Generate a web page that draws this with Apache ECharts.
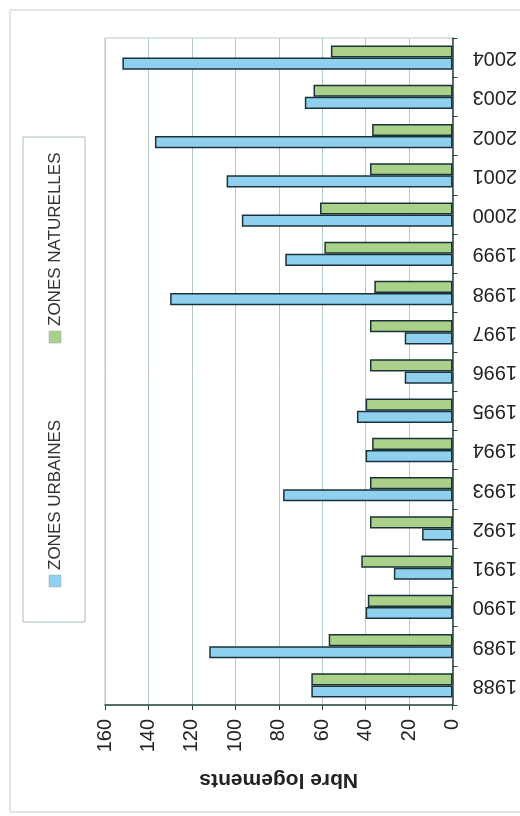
<!DOCTYPE html>
<html>
<head>
<meta charset="utf-8">
<script src="https://cdn.jsdelivr.net/npm/echarts@6/dist/echarts.min.js"></script>
<style>
  html, body { margin: 0; padding: 0; background: #ffffff; }
  #chart { width: 520px; height: 816px; }
</style>
</head>
<body>
<div id="chart"></div>
<script>
// Logements par année, zones urbaines / zones naturelles
const years = ['1988','1989','1990','1991','1992','1993','1994','1995','1996','1997','1998','1999','2000','2001','2002','2003','2004'];
const zonesUrbaines =   [65, 112, 40, 27, 14, 78, 40, 44, 22, 22, 130, 77, 97, 104, 137, 68, 152];
const zonesNaturelles = [65, 57, 39, 42, 38, 38, 37, 40, 38, 38, 36, 59, 61, 38, 37, 64, 56];
const seriesNames = ['ZONES URBAINES', 'ZONES NATURELLES'];
const seriesColors = ['#8fd0ef', '#a9d18a'];
const axisTitle = 'Nbre logements';

const FONT = '"Liberation Sans", Arial, sans-serif';
const chart = echarts.init(document.getElementById('chart'));

// Rotated legend drawn as a graphic group (reads bottom to top)
function legendItem(name, color, yBottom) {
  return {
    type: 'group',
    x: 55, y: yBottom,
    rotation: Math.PI / 2,
    children: [
      { type: 'rect', shape: { x: 0, y: -6, width: 12, height: 12 },
        style: { fill: color, stroke: '#9ab', lineWidth: 0.5 } },
      { type: 'text', x: 17, y: 0,
        style: { text: name, fill: '#333', font: '17px ' + FONT, verticalAlign: 'middle' } }
    ]
  };
}

const barStyle = (color) => ({ color: color, borderColor: '#1b3238', borderWidth: 1.5 });

chart.setOption({
  animation: false,
  backgroundColor: '#ffffff',
  grid: { left: 105, right: 67, top: 38, bottom: 111, show: true, borderColor: '#b7c9c6', borderWidth: 1 },
  xAxis: {
    type: 'value', inverse: true, min: 0, max: 160, interval: 20,
    position: 'bottom',
    name: axisTitle, nameLocation: 'middle', nameGap: 64, nameRotate: 180,
    nameTextStyle: { fontFamily: FONT, fontSize: 21, fontWeight: 'bold', color: '#222' },
    axisLine: { show: true, lineStyle: { color: '#2a4444', width: 1.5 } },
    axisTick: { show: true, length: 5, lineStyle: { color: '#2a4444' } },
    axisLabel: { rotate: 90, margin: 14, fontFamily: FONT, fontSize: 20, color: '#222' },
    splitLine: { show: true, lineStyle: { color: '#b7c9c6', width: 1 } }
  },
  yAxis: {
    type: 'category', data: years, position: 'right',
    axisLine: { show: true, lineStyle: { color: '#2a4444', width: 1.5 } },
    axisTick: { show: true, length: 5, lineStyle: { color: '#2a4444' } },
    axisLabel: { rotate: 180, margin: 20, fontFamily: FONT, fontSize: 20, color: '#222' },
    splitLine: { show: false }
  },
  // naturelles listed first so its bar sits above the urbaines bar in each year
  series: [
    { name: seriesNames[1], type: 'bar', data: zonesNaturelles, barGap: '0%', barCategoryGap: '38%',
      itemStyle: barStyle(seriesColors[1]) },
    { name: seriesNames[0], type: 'bar', data: zonesUrbaines, barGap: '0%', barCategoryGap: '38%',
      itemStyle: barStyle(seriesColors[0]) }
  ],
  graphic: [
    { type: 'rect', shape: { x: 10, y: 10, width: 530, height: 802 },
      style: { fill: 'none', stroke: '#c4cfcc', lineWidth: 1 }, z: -1 },
    { type: 'rect', shape: { x: 23, y: 137, width: 62, height: 485 },
      style: { fill: '#ffffff', stroke: '#a9bdb9', lineWidth: 1 } },
    legendItem(seriesNames[0], seriesColors[0], 587),
    legendItem(seriesNames[1], seriesColors[1], 343)
  ]
});
</script>
</body>
</html>
